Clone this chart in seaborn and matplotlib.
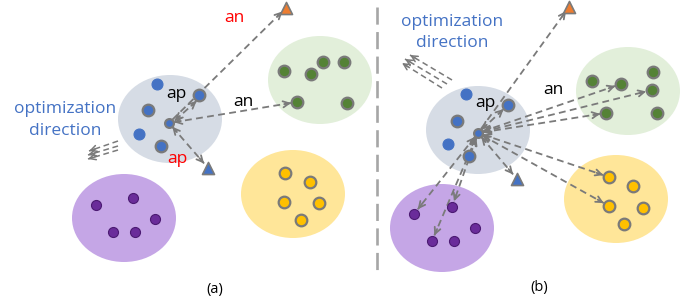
import numpy as np
import pandas as pd
import matplotlib
matplotlib.use("Agg")
import matplotlib.pyplot as plt
import seaborn as sns
from matplotlib.patches import Ellipse

sns.set_style("white")
plt.rcParams['font.family'] = ['Open Sans', 'DejaVu Sans']

GREY = '#7a7a7a'

# cluster blobs: name, fill colour, dot colour
clusters = ['anchor', 'green', 'yellow', 'purple']
blob_colors = ['#d6dce5', '#e2efda', '#ffe699', '#c5a6e6']
dot_colors = ['#4472c4', '#548235', '#ffc000', '#6a2c9a']

# blob centres per panel (pixel coords, y down)
blob_a = [(170, 119), (320, 80), (293, 194), (124, 218)]
blob_b = [(478, 130), (628, 91), (616, 199), (442, 228)]

# points, panel (a)
anchor_a = (169, 123)
blue_plain_a_x = [157, 139]
blue_plain_a_y = [84, 134]
blue_ring_a_x = [148, 161, 199]
blue_ring_a_y = [110, 146, 95]
green_a_x = [284, 311, 323, 344, 297, 347]
green_a_y = [71, 74, 62, 62, 102, 103]
yellow_a_x = [285, 310, 284, 319, 301]
yellow_a_y = [173, 182, 202, 203, 220]
purple_a_x = [96, 133, 155, 113, 135]
purple_a_y = [205, 198, 219, 232, 232]
pos_tri_a = (208, 168)
neg_tri_a = (286, 8)

# points, panel (b)
anchor_b = (478, 133)
blue_plain_b_x = [466, 448]
blue_plain_b_y = [94, 144]
blue_ring_b_x = [457, 469, 508]
blue_ring_b_y = [121, 156, 105]
green_b_x = [592, 621, 653, 652, 606, 657]
green_b_y = [81, 84, 72, 90, 113, 113]
yellow_b_x = [609, 633, 609, 643, 624]
yellow_b_y = [177, 186, 206, 208, 224]
purple_b_x = [414, 452, 475, 432, 454]
purple_b_y = [214, 207, 228, 241, 241]
pos_tri_b = (517, 179)
neg_tri_b = (569, 7)

fig = plt.figure(figsize=(7, 3.08), dpi=100)
ax = fig.add_axes([0, 0, 1, 1])
ax.set_xlim(0, 700)
ax.set_ylim(308, 0)
ax.axis('off')

for centres in (blob_a, blob_b):
    for (cx, cy), col in zip(centres, blob_colors):
        ax.add_patch(Ellipse((cx, cy), 104, 88, facecolor=col, edgecolor='none', zorder=1))


def arrow(p0, p1, both=True, s0=5, s1=6, lw=1.3):
    p0 = np.array(p0, float)
    p1 = np.array(p1, float)
    u = (p1 - p0) / np.linalg.norm(p1 - p0)
    a = p0 + u * s0
    b = p1 - u * s1
    ax.plot([a[0], b[0]], [a[1], b[1]], color=GREY, lw=lw, ls=(0, (3.8, 2.4)), zorder=2)
    ends = [(b, -u)] + ([(a, u)] if both else [])
    for tip, back in ends:
        ax.annotate('', xy=tip, xytext=tip + back * 7,
                    arrowprops=dict(arrowstyle='->', color=GREY, lw=lw,
                                    mutation_scale=11, shrinkA=0, shrinkB=0),
                    zorder=3)


def dots(xs, ys, color, ring=True, size=70, edge=None):
    sns.scatterplot(x=xs, y=ys, ax=ax, color=color, s=size,
                    edgecolor=edge if edge else (GREY if ring else color),
                    linewidth=1.6 if ring else 0.8, zorder=5, legend=False)


# panel (a) arrows
arrow(anchor_a, neg_tri_a, both=False, s1=5)
arrow((anchor_a[0] + 2, anchor_a[1] + 1), (blue_ring_a_x[2] + 2, blue_ring_a_y[2] + 2))
arrow(anchor_a, (green_a_x[4], green_a_y[4]))
arrow(anchor_a, pos_tri_a)

# panel (b) arrows
arrow(anchor_b, neg_tri_b, both=False, s1=5)
arrow(anchor_b, (blue_ring_b_x[2], blue_ring_b_y[2]))
for i in (1, 3, 4):
    arrow(anchor_b, (green_b_x[i], green_b_y[i]))
for i in (0, 2):
    arrow(anchor_b, (yellow_b_x[i], yellow_b_y[i]))
for i in (0, 1, 3):
    arrow(anchor_b, (purple_b_x[i], purple_b_y[i]))
arrow(anchor_b, pos_tri_b)

# optimization direction arrows
for (x0, y0), (x1, y1) in [((118, 141), (89, 151)), ((118, 146), (88, 155)), ((118, 150), (88, 159))]:
    arrow((x0, y0), (x1, y1), both=False, s0=0, s1=0, lw=1.1)
for (x0, y0), (x1, y1) in [((452, 80), (410, 55)), ((447, 84), (405, 59)), ((442, 88), (402, 63))]:
    arrow((x0, y0), (x1, y1), both=False, s0=0, s1=0, lw=1.1)

# points
for bp_x, bp_y, br_x, br_y, gx, gy, yx, yy, px, py, anc, ptri, ntri in [
        (blue_plain_a_x, blue_plain_a_y, blue_ring_a_x, blue_ring_a_y,
         green_a_x, green_a_y, yellow_a_x, yellow_a_y, purple_a_x, purple_a_y,
         anchor_a, pos_tri_a, neg_tri_a),
        (blue_plain_b_x, blue_plain_b_y, blue_ring_b_x, blue_ring_b_y,
         green_b_x, green_b_y, yellow_b_x, yellow_b_y, purple_b_x, purple_b_y,
         anchor_b, pos_tri_b, neg_tri_b)]:
    dots(bp_x, bp_y, dot_colors[0], ring=False, size=62)
    dots(br_x, br_y, dot_colors[0])
    dots([anc[0]], [anc[1]], dot_colors[0], size=40)
    dots(gx, gy, dot_colors[1])
    dots(yx, yy, dot_colors[2])
    dots(px, py, dot_colors[3], ring=False, size=52, edge='#4b1a72')
    sns.scatterplot(x=[ptri[0]], y=[ptri[1]], ax=ax, marker='^', s=75, color='#4472c4',
                    edgecolor=GREY, linewidth=1.2, zorder=6, legend=False)
    sns.scatterplot(x=[ntri[0]], y=[ntri[1]], ax=ax, marker='^', s=75, color='#ed7d31',
                    edgecolor=GREY, linewidth=1.2, zorder=6, legend=False)

# labels
fs = 12.5
ax.text(234, 18, 'an', color='red', fontsize=fs, ha='center', va='center')
ax.text(176, 94, 'ap', color='black', fontsize=fs, ha='center', va='center')
ax.text(243, 102, 'an', color='black', fontsize=fs, ha='center', va='center')
ax.text(177, 159, 'ap', color='red', fontsize=fs, ha='center', va='center')
ax.text(65, 109, 'optimization', color='#4472c4', fontsize=fs, ha='center', va='center')
ax.text(65, 131, 'direction', color='#4472c4', fontsize=fs, ha='center', va='center')

ax.text(485, 103, 'ap', color='black', fontsize=fs, ha='center', va='center')
ax.text(553, 90, 'an', color='black', fontsize=fs, ha='center', va='center')
ax.text(452, 22, 'optimization', color='#4472c4', fontsize=fs, ha='center', va='center')
ax.text(452, 43, 'direction', color='#4472c4', fontsize=fs, ha='center', va='center')

ax.text(215, 289, '(a)', color='black', fontsize=10.5, ha='center', va='center')
ax.text(539, 288, '(b)', color='black', fontsize=10.5, ha='center', va='center')

# divider
ax.plot([377, 377], [7, 275], color='#a6a6a6', lw=1.9, ls=(0, (6.5, 2.8)), zorder=1)

fig.savefig('out.png', dpi=100)
